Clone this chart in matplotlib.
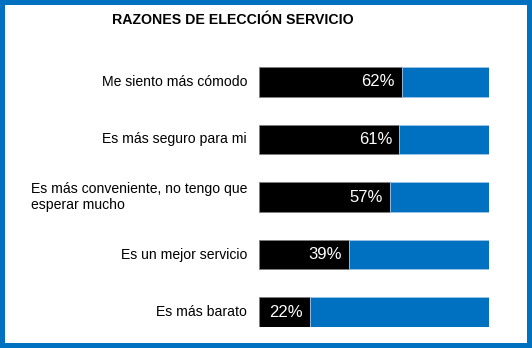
import matplotlib
matplotlib.use("Agg")
import matplotlib.pyplot as plt
from matplotlib.patches import Rectangle

categories = ["Me siento más cómodo", "Es más seguro para mi",
              "Es más conveniente, no tengo que\nesperar mucho",
              "Es un mejor servicio", "Es más barato"]
values = [62, 61, 57, 39, 22]
title = "RAZONES DE ELECCIÓN SERVICIO"

plt.rcParams['font.family'] = ['Liberation Sans', 'DejaVu Sans']
BLUE = '#0070C0'
W, H = 532, 348
fig = plt.figure(figsize=(W/100, H/100), dpi=100)

# blue frame
b = 5
for (x, y, w, h) in [(0, 0, W, b), (0, H-b, W, b), (0, 0, b, H), (W-b, 0, b, H)]:
    fig.patches.append(Rectangle((x/W, y/H), w/W, h/H, transform=fig.transFigure,
                                 facecolor=BLUE, edgecolor='none'))

ax = fig.add_axes([259/W, (H-327)/H, 230/W, 260/H])
ypos = list(range(len(categories)))
rest = [100 - v for v in values]
ax.barh(ypos, values, height=0.52, color='black', edgecolor='#7f7f7f', linewidth=0.6)
ax.barh(ypos, rest, left=values, height=0.52, color=BLUE, edgecolor='#9dc3e6', linewidth=0.6)
ax.set_xlim(0, 100)
ax.set_ylim(len(categories) - 1 + 0.26, -0.26)
for y, v in zip(ypos, values):
    ax.text(v - 3, y, f"{v}%", color='white', ha='right', va='center', fontsize=12)
for y, c in zip(ypos, categories):
    ax.text(-5.2, y, c, ha='right', va='center', multialignment='left',
            fontsize=10.1, color='black', linespacing=1.15)
ax.axis('off')

fig.text(233/W, (H-20)/H, title, ha='center', va='center', fontsize=10.2,
         fontweight='bold')

fig.savefig("out.png", dpi=100)
